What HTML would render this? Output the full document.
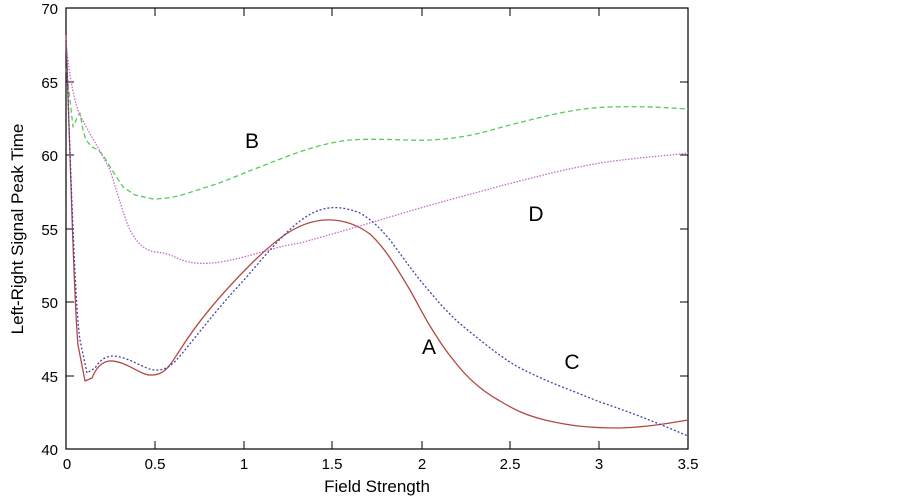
<!DOCTYPE html>
<html><head><meta charset="utf-8"><style>
body{margin:0;background:#fff;}
svg{display:block;font-family:"Liberation Sans",sans-serif;}
</style></head><body>
<svg width="902" height="498" viewBox="0 0 902 498">
<rect x="66" y="8" width="622" height="441" fill="none" stroke="#000" stroke-width="1.2"/>
<g stroke="#000" stroke-width="1">
<line x1="66" y1="82" x2="74" y2="82"/><line x1="66" y1="155" x2="74" y2="155"/><line x1="66" y1="229" x2="74" y2="229"/><line x1="66" y1="302" x2="74" y2="302"/><line x1="66" y1="376" x2="74" y2="376"/>
<line x1="688" y1="82" x2="680" y2="82"/><line x1="688" y1="155" x2="680" y2="155"/><line x1="688" y1="229" x2="680" y2="229"/><line x1="688" y1="302" x2="680" y2="302"/><line x1="688" y1="376" x2="680" y2="376"/>
<line x1="155" y1="449" x2="155" y2="441"/><line x1="244" y1="449" x2="244" y2="441"/><line x1="332" y1="449" x2="332" y2="441"/><line x1="422" y1="449" x2="422" y2="441"/><line x1="510" y1="449" x2="510" y2="441"/><line x1="599" y1="449" x2="599" y2="441"/>
<line x1="155" y1="8" x2="155" y2="16"/><line x1="244" y1="8" x2="244" y2="16"/><line x1="332" y1="8" x2="332" y2="16"/><line x1="422" y1="8" x2="422" y2="16"/><line x1="510" y1="8" x2="510" y2="16"/><line x1="599" y1="8" x2="599" y2="16"/>
</g>
<g font-size="15" text-anchor="end" fill="#000">
<text x="58" y="14">70</text><text x="58" y="88">65</text><text x="58" y="161">60</text><text x="58" y="235">55</text><text x="58" y="308">50</text><text x="58" y="382">45</text><text x="58" y="455">40</text>
</g>
<g font-size="15" text-anchor="middle" fill="#000">
<text x="67" y="469">0</text><text x="155" y="469">0.5</text><text x="244" y="469">1</text><text x="332" y="469">1.5</text><text x="422" y="469">2</text><text x="510" y="469">2.5</text><text x="599" y="469">3</text><text x="688" y="469">3.5</text>
<text x="377" y="492" font-size="17">Field Strength</text>
<text transform="translate(23,229) rotate(-90)" font-size="17">Left-Right Signal Peak Time</text>
</g>
<g font-size="21" text-anchor="middle" fill="#000">
<text x="252" y="148">B</text><text x="536" y="221">D</text><text x="429" y="354">A</text><text x="572" y="369">C</text>
</g>
<g fill="none" stroke-width="1.3" stroke-linejoin="round">
<path stroke="#22bb22" stroke-opacity="0.75" stroke-dasharray="5,3" d="M66,68 L70,100 L73,127 L77,118 L80,113 L83,130 L86,140 L92,147 L98,150 L103,155 L112,170 L123,187 L135,195 L153,199 C175,199 190,192 207,187 C230,180 245,172 260,167 C290,155 320,143 350,140 C380,138 410,141 430,140 C470,138 490,130 510,125 C550,115 575,108 610,107 C650,106 670,108 688,109"/>
<path stroke="#cc66cc" stroke-dasharray="1.5,1.5" d="M66,45 C70,80 75,105 80,115 C90,135 100,150 110,170 C118,195 125,220 130,230 C138,245 145,250 155,252 C170,253 175,258 185,261 C200,265 215,264 240,258 C270,250 280,246 300,243 C340,232 370,223 400,214 C450,199 480,192 500,186 C540,176 560,170 600,163 C640,157 665,156 688,153"/>
<path stroke="#b24a44" d="M66,35 C70,150 74,300 78,345 L85,381 L92,378 C96,368 102,362 109,361 C125,360 140,375 150,375 C165,376 170,365 180,350 C200,318 225,290 250,265 C280,235 300,222 324,220 C340,219 355,223 370,234 C385,248 395,265 410,290 C420,308 425,318 430,326 C440,342 445,350 455,362 C465,375 480,390 500,401 C515,410 525,415 545,420 C570,426 590,428 620,428 C650,427 670,423 688,420"/>
<path stroke="#4444aa" stroke-dasharray="2,2" d="M66,40 C70,150 75,310 80,340 L87,373 L95,368 C100,360 106,356 113,356 C130,357 145,370 155,370 C168,371 175,362 185,350 C205,325 225,300 244,280 C270,250 295,218 320,210 C332,206 345,207 360,213 C372,220 380,228 390,240 C405,260 415,275 430,292 C445,310 455,320 470,332 C490,348 505,360 520,368 C540,378 550,382 560,386 C580,394 590,398 600,402 C630,412 655,422 688,436"/>
</g>
</svg>
</body></html>
